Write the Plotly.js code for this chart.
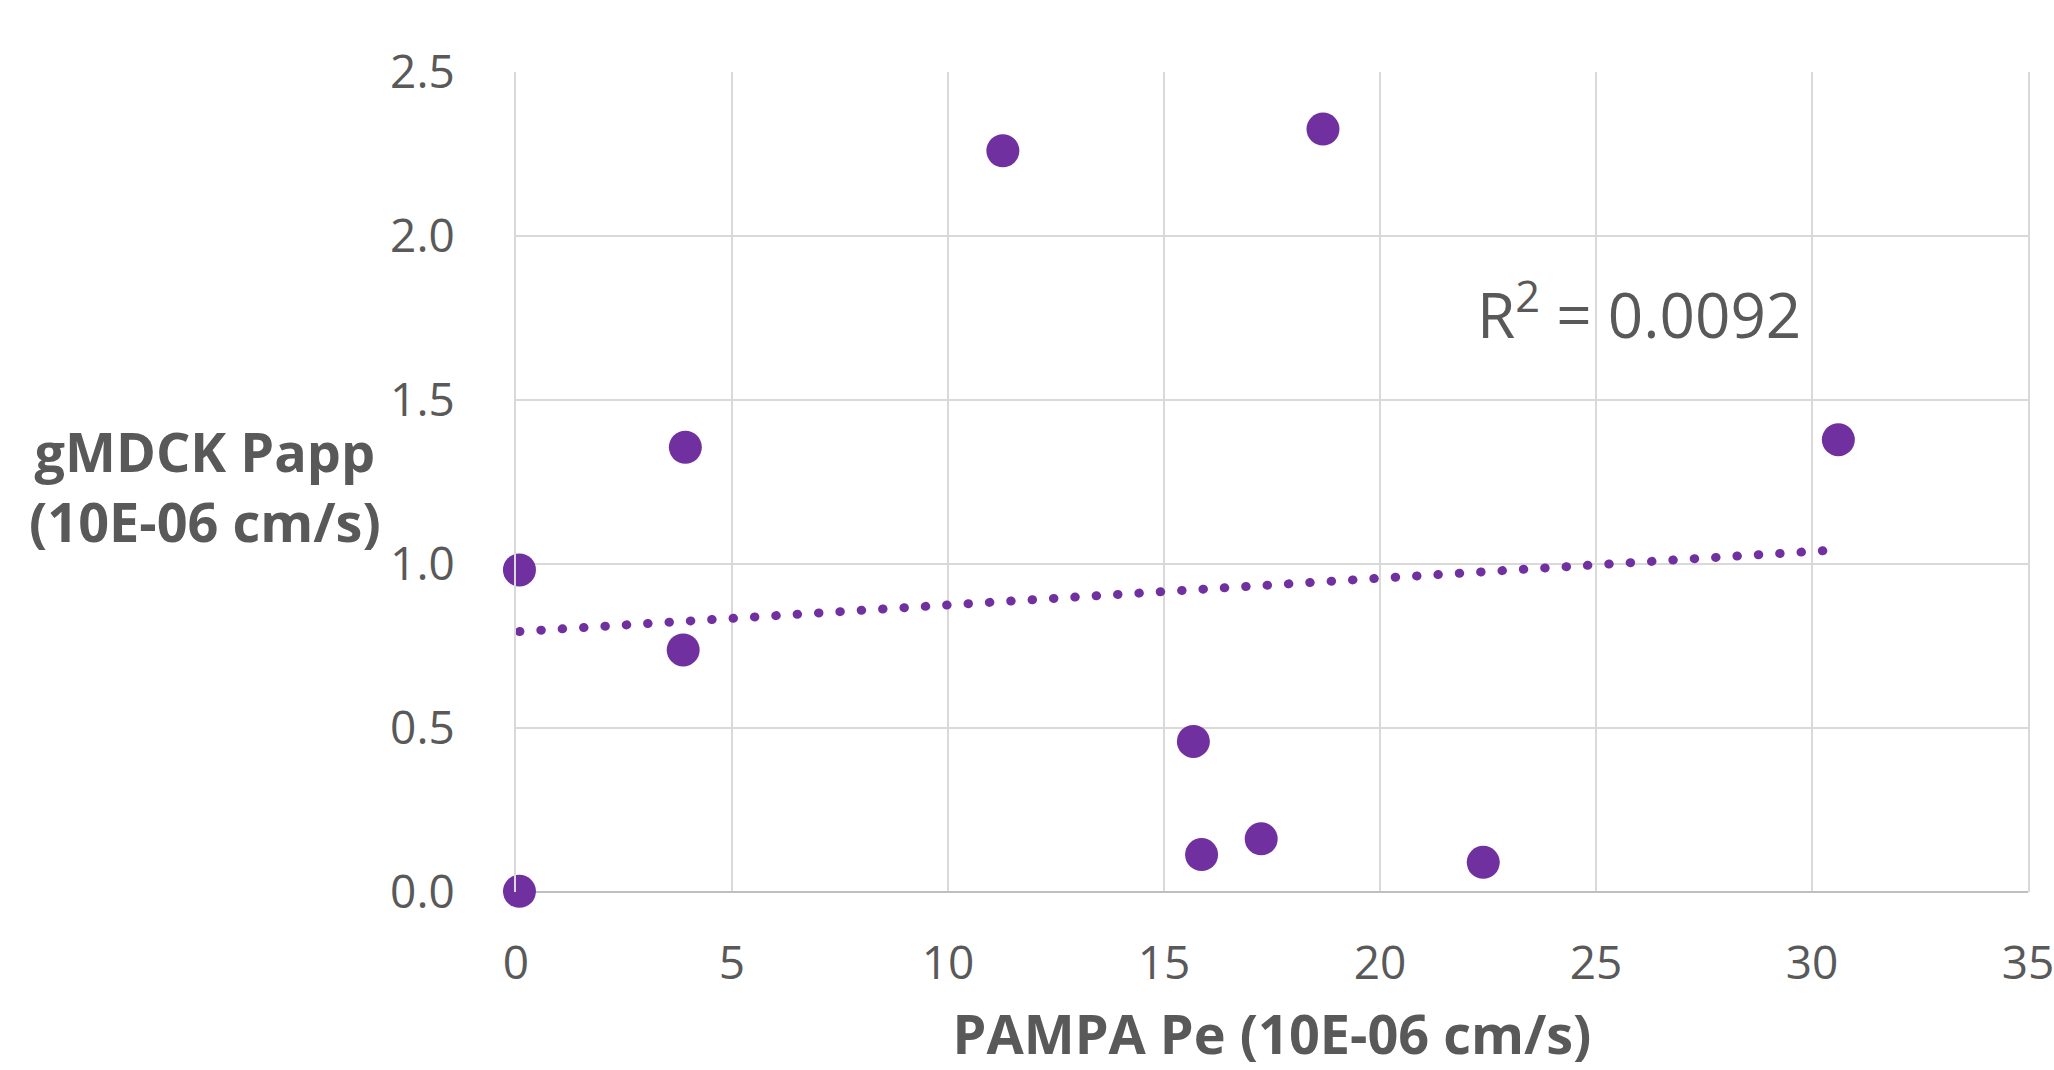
<!DOCTYPE html>
<html>
<head>
<meta charset="utf-8">
<script src="https://cdn.plot.ly/plotly-3.0.1.min.js"></script>
<style>
html, body { margin: 0; padding: 0; background: #ffffff; }
#chart { width: 2054px; height: 1070px; }
.scatterlayer .js-line { stroke-linecap: round; }
</style>
</head>
<body>
<div id="chart"></div>
<script>
// Data
const pampaPe = [0.08, 0.08, 3.87, 3.92, 11.27, 15.68, 15.87, 17.25, 18.68, 22.39, 30.61];
const gmdckPapp = [0.982, 0.002, 0.738, 1.356, 2.26, 0.459, 0.114, 0.162, 2.326, 0.0905, 1.379];
const xTickVals = [0, 5, 10, 15, 20, 25, 30, 35];
const yTickVals = [0.0, 0.5, 1.0, 1.5, 2.0, 2.5];
const r2Label = "R<sup>2</sup> = 0.0092";
const xTitle = "PAMPA Pe (10E-06 cm/s)";
const yTitle = "gMDCK Papp<br>(10E-06 cm/s)";

// Linear least-squares trendline computed from the data
const n = pampaPe.length;
const mx = pampaPe.reduce((a, b) => a + b, 0) / n;
const my = gmdckPapp.reduce((a, b) => a + b, 0) / n;
let sxy = 0, sxx = 0;
for (let i = 0; i < n; i++) {
  sxy += (pampaPe[i] - mx) * (gmdckPapp[i] - my);
  sxx += (pampaPe[i] - mx) * (pampaPe[i] - mx);
}
const slope = sxy / sxx;
const intercept = my - slope * mx;
const xMin = Math.min(...pampaPe), xMax = Math.max(...pampaPe);
const trendX = [xMin, xMax];
const trendY = trendX.map(v => intercept + slope * v);

const purple = '#7030A0';
const grey = '#595959';
const fontFam = 'Open Sans, Lato, sans-serif';

const traces = [
  {
    x: trendX, y: trendY, type: 'scatter', mode: 'lines',
    line: { color: purple, width: 9, dash: '0.5px,20.9px' },
    cliponaxis: false, hoverinfo: 'skip', showlegend: false
  },
  {
    x: pampaPe, y: gmdckPapp, type: 'scatter', mode: 'markers',
    marker: { color: purple, size: 33, line: { width: 0 } },
    cliponaxis: false, showlegend: false
  }
];

const layout = {
  width: 2054, height: 1070,
  margin: { l: 516, r: 26, t: 72, b: 178 },
  paper_bgcolor: '#ffffff', plot_bgcolor: '#ffffff',
  font: { family: fontFam, color: grey },
  showlegend: false,
  xaxis: {
    range: [0, 35], tickvals: xTickVals, ticktext: xTickVals.map(String),
    showgrid: true, gridcolor: '#d9d9d9', gridwidth: 2,
    zeroline: false, showline: false, ticks: '',
    ticklabelstandoff: 40,
    ticklabeloverflow: 'allow',
    tickfont: { size: 46, family: fontFam, color: grey },
    title: { text: xTitle, font: { size: 54, family: fontFam, color: grey, weight: 'bold' }, standoff: 30 }
  },
  yaxis: {
    range: [0, 2.5], tickvals: yTickVals, ticktext: yTickVals.map(v => v.toFixed(1)),
    showgrid: true, gridcolor: '#d9d9d9', gridwidth: 2,
    zeroline: true, zerolinecolor: '#bfbfbf', zerolinewidth: 2,
    showline: true, linecolor: '#d9d9d9', linewidth: 2, mirror: true,
    ticks: '',
    ticklabelstandoff: 50,
    tickfont: { size: 46, family: fontFam, color: grey }
  },
  annotations: [
    {
      xref: 'paper', yref: 'paper', x: -0.2057, y: 0.495,
      text: '<b>' + yTitle + '</b>', showarrow: false,
      font: { size: 54, family: fontFam, color: grey },
      align: 'center', xanchor: 'center', yanchor: 'middle'
    },
    {
      xref: 'x', yref: 'y', x: 26.0, y: 1.77,
      text: r2Label, showarrow: false,
      font: { size: 62, family: fontFam, color: grey },
      xanchor: 'center', yanchor: 'middle'
    }
  ]
};

Plotly.newPlot('chart', traces, layout, { displayModeBar: false, staticPlot: true });
</script>
</body>
</html>
